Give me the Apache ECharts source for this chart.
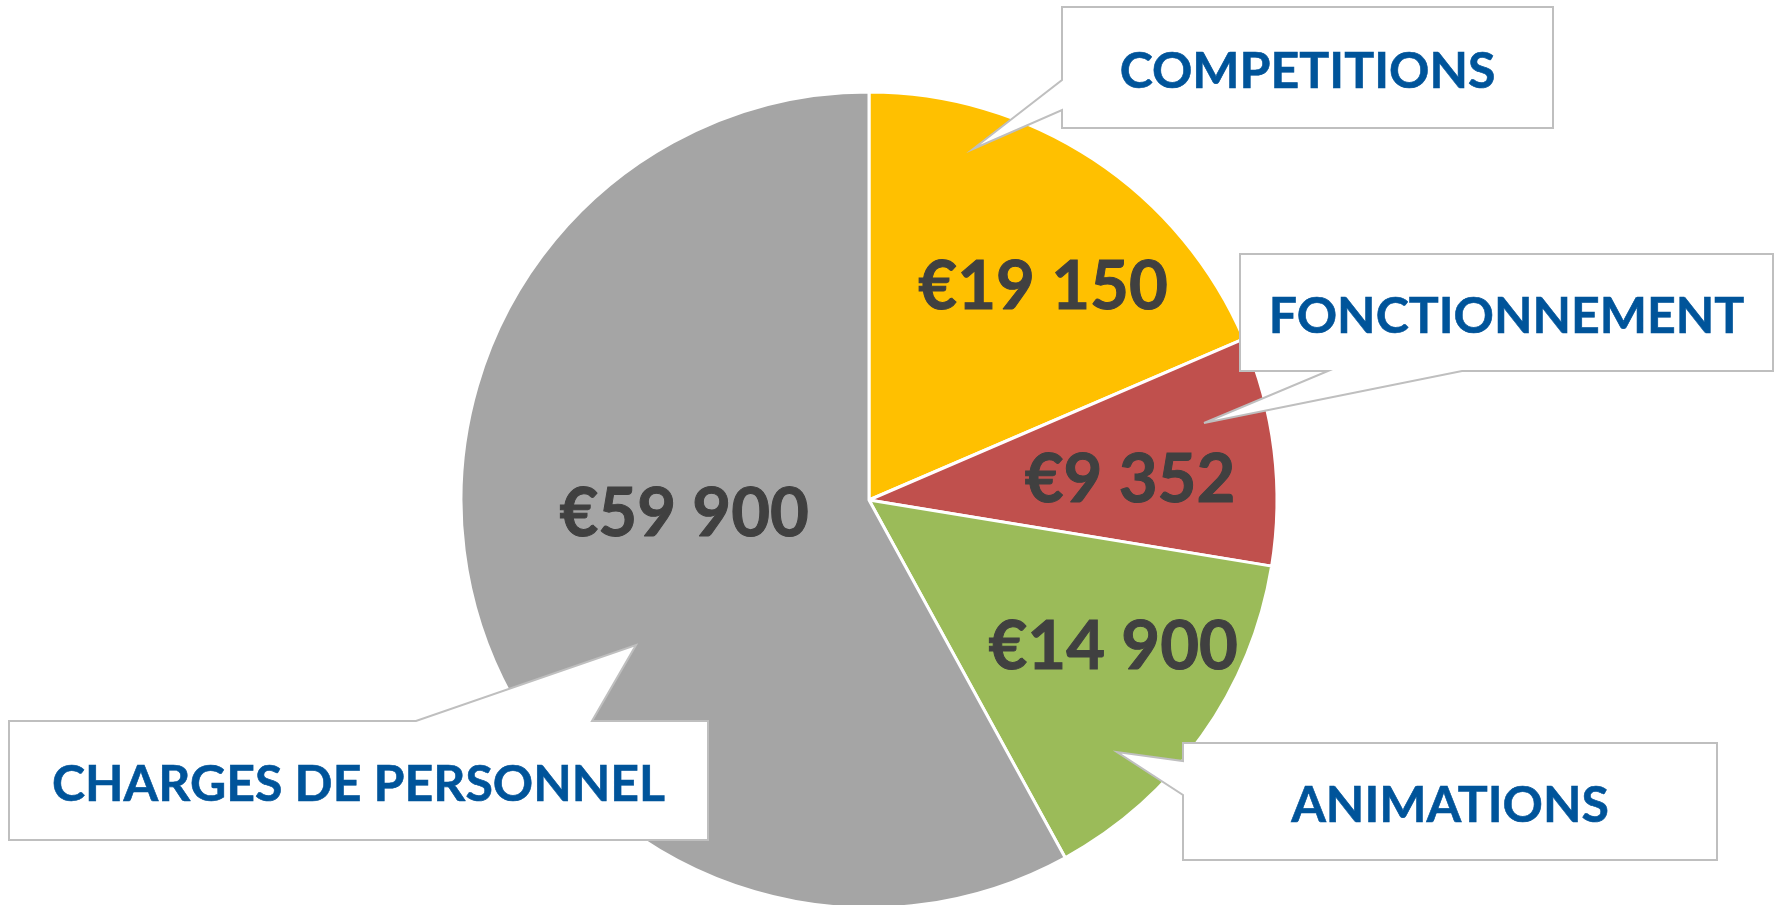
<!DOCTYPE html>
<html>
<head>
<meta charset="utf-8">
<script src="https://cdn.jsdelivr.net/npm/echarts@6/dist/echarts.min.js"></script>
<style>
  html, body { margin: 0; padding: 0; background: #ffffff; }
  #chart { width: 1781px; height: 905px; }
</style>
</head>
<body>
<div id="chart"></div>
<script>
// ---- data ----
var categories = ['COMPETITIONS', 'FONCTIONNEMENT', 'ANIMATIONS', 'CHARGES DE PERSONNEL'];
var values = [19150, 9352, 14900, 59900];
var colors = ['#FFC000', '#C0504D', '#9BBB59', '#A5A5A5'];

// ---- layout (pixels) ----
var CENTER = [869, 500];
var RADIUS = 408;
// value label placement: radial factor and angle shift (deg) relative to slice mid-angle
var valueLabelRadius = [0.677, 0.642, 0.696, 0.454];
var valueLabelShift = [5.7, 2.2, -4.6, 10.4];
// callout boxes [x0, y0, x1, y1]
var calloutBoxes = [
  [1062, 7, 1553, 128],
  [1240, 254, 1773, 371],
  [1183, 743, 1717, 860],
  [9, 721, 708, 840]
];
var calloutShapes = [
  function (b) { return [[b[0], b[1]], [b[2], b[1]], [b[2], b[3]], [b[0], b[3]], [b[0], 110], [973, 149], [b[0], 80]]; },
  function (b) { return [[b[0], b[1]], [b[2], b[1]], [b[2], b[3]], [1462, b[3]], [1204, 423], [1328, b[3]], [b[0], b[3]]]; },
  function (b) { return [[b[0], b[1]], [b[2], b[1]], [b[2], b[3]], [b[0], b[3]], [b[0], 795], [1117, 752], [b[0], 761]]; },
  function (b) { return [[b[0], b[1]], [416, b[1]], [636, 645], [592, b[1]], [b[2], b[1]], [b[2], b[3]], [b[0], b[3]]]; }
];
var CALLOUT_TEXT_DY = 4;

var total = values.reduce(function (a, b) { return a + b; }, 0);
var midAngles = [];
(function () {
  var acc = 0;
  for (var i = 0; i < values.length; i++) {
    var span = values[i] / total * 360;
    midAngles.push(acc + span / 2);
    acc += span;
  }
})();

function fmtEuro(v) {
  var s = String(v).replace(/\B(?=(\d{3})+(?!\d))/g, ' ');
  return '\u20AC' + s;
}

var pieData = categories.map(function (c, i) {
  return { name: c, value: values[i], itemStyle: { color: colors[i] } };
});

var graphics = calloutBoxes.map(function (b, i) {
  return {
    type: 'polygon',
    z: 10,
    silent: true,
    shape: { points: calloutShapes[i](b) },
    style: { fill: '#ffffff', stroke: '#BFBFBF', lineWidth: 2 }
  };
});

var chart = echarts.init(document.getElementById('chart'), null, { renderer: 'canvas' });
chart.setOption({
  backgroundColor: '#ffffff',
  animation: false,
  graphic: graphics,
  series: [
    {
      type: 'pie',
      z: 2,
      center: CENTER,
      radius: RADIUS,
      startAngle: 90,
      clockwise: true,
      silent: true,
      data: pieData,
      itemStyle: { borderColor: '#ffffff', borderWidth: 3 },
      label: {
        show: true,
        position: 'inside',
        formatter: function (p) { return fmtEuro(p.value); },
        fontFamily: 'Lato, "Open Sans", sans-serif',
        fontWeight: 'bold',
        fontSize: 67,
        color: '#404040',
        textBorderColor: '#404040',
        textBorderWidth: 1
      },
      labelLine: { show: false },
      labelLayout: function (p) {
        var i = p.dataIndex;
        var a = (midAngles[i] + valueLabelShift[i]) * Math.PI / 180;
        var r = RADIUS * valueLabelRadius[i];
        return {
          x: CENTER[0] + r * Math.sin(a),
          y: CENTER[1] - r * Math.cos(a) + 2,
          align: 'center',
          verticalAlign: 'middle'
        };
      }
    },
    {
      type: 'pie',
      z: 20,
      center: CENTER,
      radius: RADIUS,
      startAngle: 90,
      clockwise: true,
      silent: true,
      data: categories.map(function (c, i) {
        return { name: c, value: values[i], itemStyle: { color: 'rgba(0,0,0,0)' } };
      }),
      itemStyle: { borderWidth: 0 },
      label: {
        show: true,
        position: 'inside',
        formatter: '{b}',
        fontFamily: 'Lato, "Open Sans", sans-serif',
        fontWeight: 'bold',
        fontSize: 50,
        color: '#00549A',
        textBorderColor: '#00549A',
        textBorderWidth: 0.6
      },
      labelLine: { show: false },
      labelLayout: function (p) {
        var b = calloutBoxes[p.dataIndex];
        return {
          x: (b[0] + b[2]) / 2,
          y: (b[1] + b[3]) / 2 + CALLOUT_TEXT_DY,
          align: 'center',
          verticalAlign: 'middle'
        };
      }
    }
  ]
});
</script>
</body>
</html>
